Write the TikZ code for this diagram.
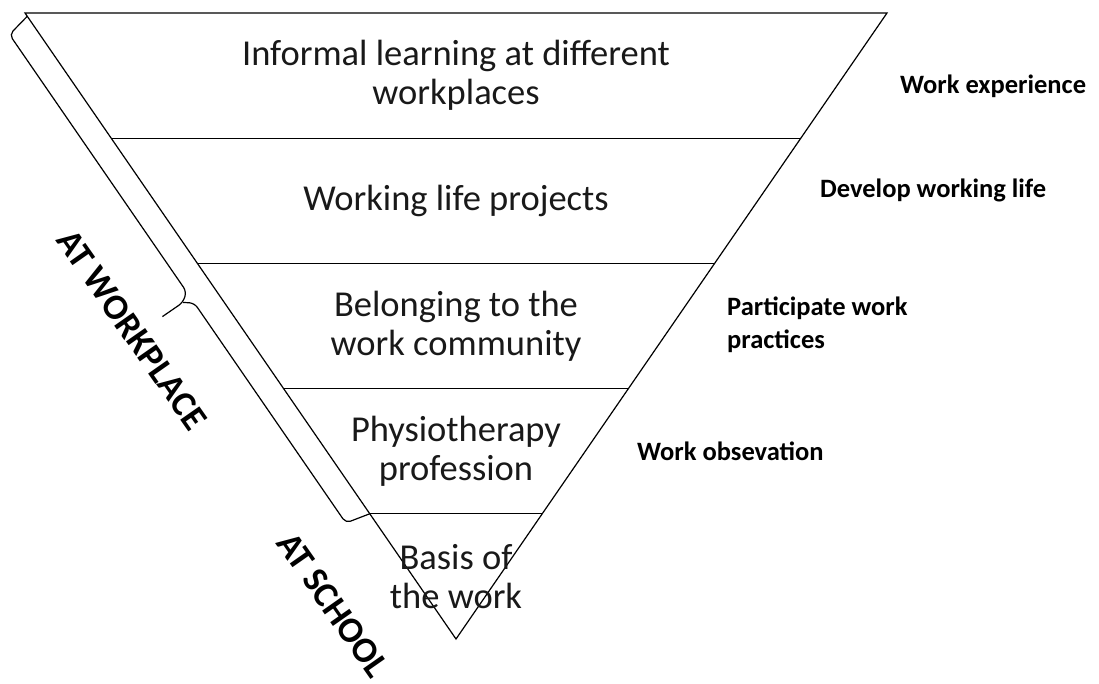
\documentclass[tikz,border=0pt]{standalone}
\usepackage{fontspec}
\setmainfont{Carlito}
\usetikzlibrary{calc}

\tikzset{
  funnel/.style={line width=1.2pt, line join=miter},
  level/.style={font=\fontsize{36.5}{39}\selectfont, align=center, inner sep=0pt, text=black!90},
  aside/.style={font=\fontsize{26.5}{33}\selectfont\bfseries, align=left, inner sep=0pt, anchor=base west},
  place/.style={font=\fontsize{36}{40}\selectfont\bfseries, inner sep=0pt, rotate=-55},
}

\begin{document}
\begin{tikzpicture}[x=1pt, y=-1pt]
  \useasboundingbox (0,0) rectangle (1099,684);

  % Entonnoir inversé
  \coordinate (tl) at (25,13);
  \coordinate (tr) at (887,13);
  \coordinate (apex) at (456,639);
  \coordinate (top) at ($(tl)!0.5!(tr)$);
  \draw[funnel] (tl) -- (tr) -- (apex) -- cycle;
  \foreach \t in {0.2,0.4,0.6,0.8}
    \draw[funnel] ($(tl)!\t!(apex)$) -- ($(tr)!\t!(apex)$);

  % Niveaux
  \node[level] (informal) at ($(top)!0.1!(apex)$) {Informal learning at different\\workplaces};
  \node[level] (projects) at ($(top)!0.3!(apex)$) {Working life projects};
  \node[level] (belonging) at ($(top)!0.5!(apex)$) {Belonging to the\\work community};
  \node[level] (profession) at ($(top)!0.7!(apex)$) {Physiotherapy\\profession};
  \node[level] (basis) at ($(top)!0.9!(apex)$) {Basis of\\the work};

  % Annotations à droite
  \node[aside] (experience) at (900,94) {Work experience};
  \node[aside] (develop) at (820,198) {Develop working life};
  \node[aside] (participate) at (727,348) {Participate work\\practices};
  \node[aside] (observation) at (637,460) {Work obsevation};

  % Accolade le long du bord gauche
  \begin{scope}[shift={(tl)}, rotate=-55.45]
    \draw[funnel, rounded corners=5pt] (4,0) -- (9,25) -- (321,25) -- (328,34) -- (328,59);
    \draw[funnel, rounded corners=5pt] (328,34) -- (335,25) -- (602,25) -- (608,0);
  \end{scope}
  \node[place] (workplace) at (132,330) {AT WORKPLACE};
  \node[place] (school) at (333,605) {AT SCHOOL};
\end{tikzpicture}
\end{document}
